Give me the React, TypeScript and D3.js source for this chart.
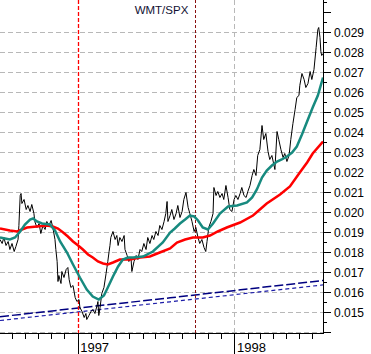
import { useEffect, useRef } from "react";
import {
    select,
    scaleTime,
    scaleLinear,
    line,
    range,
    timeDay,
    timeMonth,
} from "d3";

// daily-ish WMT/SPX ratio, days counted from 3 Jul 1996
const startDate = new Date(1996, 6, 3);
const lastDay = 752;

const ratioDays = [
    0, 5, 9, 14, 19, 23, 28, 33, 37, 42, 44, 47, 49, 51, 56, 61, 65, 70, 74, 79,
    81, 86, 91, 95, 100, 105, 109, 114, 119, 123, 128, 130, 133, 135, 137, 142, 144, 149, 154, 158,
    161, 165, 170, 175, 179, 184, 186, 191, 196, 200, 202, 207, 212, 216, 221, 226, 228, 230, 233, 237,
    242, 247, 249, 251, 254, 256, 258, 263, 268, 272, 275, 279, 284, 289, 291, 296, 300, 305, 307, 312,
    317, 321, 326, 330, 335, 340, 344, 349, 354, 358, 363, 368, 372, 377, 382, 386, 389, 391, 396, 400,
    405, 410, 414, 419, 424, 428, 433, 438, 442, 447, 452, 456, 461, 465, 470, 475, 479, 482, 486, 491,
    496, 498, 503, 507, 512, 517, 521, 526, 531, 535, 540, 545, 549, 554, 559, 563, 568, 573, 577, 582,
    587, 591, 596, 600, 605, 610, 614, 619, 624, 628, 633, 638, 640, 645, 649, 654, 659, 663, 668, 673,
    677, 682, 687, 691, 696, 698, 703, 708, 712, 717, 722, 726, 731, 736, 740, 742, 745, 747, 749, 752,
];
const ratioValues = [
    0.01865, 0.01845, 0.01875, 0.01835, 0.01855, 0.01815, 0.01845, 0.01805, 0.0183, 0.01865,
    0.01935, 0.02085, 0.02095, 0.02045, 0.02065, 0.02015, 0.02035, 0.02005, 0.0204, 0.01995,
    0.01955, 0.01925, 0.01945, 0.01895, 0.01935, 0.01915, 0.01955, 0.01935, 0.0196, 0.01925,
    0.01865, 0.01815, 0.01755, 0.01655, 0.01685, 0.01645, 0.01705, 0.01675, 0.01715, 0.01725,
    0.01665, 0.01625, 0.01635, 0.01575, 0.01555, 0.01565, 0.01525, 0.01505, 0.01475, 0.01495,
    0.01465, 0.01485, 0.01505, 0.01515, 0.01495, 0.01535, 0.01555, 0.01485, 0.01525, 0.01595,
    0.01625, 0.01695, 0.01725, 0.01755, 0.01805, 0.01835, 0.01875, 0.01905, 0.01865, 0.01885,
    0.01835, 0.01875, 0.01855, 0.01885, 0.01815, 0.01785, 0.01755, 0.01775, 0.01705, 0.01755,
    0.01785, 0.01765, 0.01815, 0.01805, 0.01845, 0.01815, 0.01875, 0.01845, 0.01885, 0.01865,
    0.01905, 0.01885, 0.01935, 0.01915, 0.01955, 0.01995, 0.02055, 0.01955, 0.01985, 0.02015,
    0.01965, 0.01995, 0.02035, 0.01975, 0.02005, 0.02065, 0.021, 0.02025, 0.01995, 0.01955,
    0.01905, 0.01925, 0.01875, 0.01845, 0.01865, 0.01825, 0.01805, 0.01855, 0.01925, 0.01955,
    0.01995, 0.02125, 0.02085, 0.02105, 0.02075, 0.02095, 0.02065, 0.02135, 0.02075, 0.02015,
    0.02005, 0.02065, 0.02085, 0.02065, 0.02095, 0.02125, 0.02085, 0.02075, 0.02105, 0.02135,
    0.02185, 0.02215, 0.02185, 0.02285, 0.02315, 0.02435, 0.02365, 0.02395, 0.02305, 0.02265,
    0.02285, 0.02235, 0.02215, 0.02405, 0.02365, 0.02315, 0.02275, 0.02295, 0.02255, 0.02285,
    0.02365, 0.02445, 0.02515, 0.02575, 0.02585, 0.02635, 0.02695, 0.02665, 0.02625, 0.02645,
    0.02705, 0.02665, 0.02715, 0.02825, 0.02915, 0.02925, 0.02875, 0.02805, 0.02785, 0.02795,
];

// 50 day average (teal)
const ma50Days = [
    0, 23, 35, 47, 58, 70, 77, 86, 98, 116, 128, 140, 156, 170, 186, 202, 216, 230, 242, 251,
    263, 275, 286, 298, 310, 333, 356, 379, 396, 407, 419, 431, 442, 452, 461, 472, 484, 496, 512, 531,
    552, 575, 587, 598, 610, 621, 633, 645, 656, 668, 680, 691, 703, 715, 728, 740, 752,
];
const ma50Values = [
    0.01875, 0.01865, 0.01875, 0.01905, 0.0194, 0.01965, 0.0197, 0.01955, 0.01945, 0.0194,
    0.0191, 0.01855, 0.018, 0.0174, 0.01675, 0.01615, 0.0158, 0.01565, 0.01585, 0.01625,
    0.0168, 0.0173, 0.01765, 0.01775, 0.01775, 0.0178, 0.01805, 0.0185, 0.019, 0.0192,
    0.01945, 0.01965, 0.01985, 0.0198, 0.0196, 0.01925, 0.01915, 0.01945, 0.01995, 0.0203,
    0.02035, 0.0205, 0.02075, 0.02115, 0.02175, 0.0221, 0.02235, 0.02255, 0.02265, 0.0228,
    0.023, 0.0233, 0.0239, 0.02455, 0.02525, 0.02585, 0.02675,
];

// 200 day average (red)
const ma200Days = [
    0, 23, 40, 51, 63, 86, 109, 123, 135, 147, 158, 170, 182, 193, 205, 216, 228, 240, 251, 263,
    279, 303, 326, 349, 372, 396, 412, 431, 449, 472, 489, 507, 528, 559, 589, 605, 621, 652, 675, 698,
    715, 728, 752,
];
const ma200Values = [
    0.0192, 0.0191, 0.01905, 0.01915, 0.01925, 0.0193, 0.01935, 0.0193, 0.0192, 0.019,
    0.0188, 0.01855, 0.01835, 0.01815, 0.0179, 0.01775, 0.01755, 0.01745, 0.0174, 0.0175,
    0.01765, 0.01765, 0.01775, 0.0178, 0.018, 0.0182, 0.0185, 0.01865, 0.01875, 0.01875,
    0.01885, 0.01905, 0.01925, 0.0195, 0.01985, 0.02015, 0.02045, 0.0209, 0.0213, 0.022,
    0.0225, 0.02295, 0.02355,
];

// long term trend channel (navy)
const trendDays = [0, 396, 752];
const upperTrend = [0.01479, 0.015735, 0.0166];
const lowerTrend = [0.0146, 0.015535, 0.01638];

const gridValues = range(14, 30).map((d) => d / 1000);
const yLabels = range(15, 30).map((d) => d / 1000);
const yearTicks = [new Date(1997, 0, 1), new Date(1998, 0, 1)];
const yearLabels = ["1997", "1998"];
const markerDate = new Date(1997, 8, 30);

const W = 371;
const H = 354;
const plotRight = 323;
const plotBottom = 333;
const font = "'Liberation Sans', Arial, sans-serif";

export default function App() {
    const svgRef = useRef<SVGSVGElement>(null);

    useEffect(() => {
        const svg = select(svgRef.current);
        svg.selectAll("*").remove();

        const xScale = scaleTime()
            .domain([startDate, timeDay.offset(startDate, lastDay)])
            .range([0, plotRight]);
        const yScale = scaleLinear().domain([0.014, 0.029]).range([332.5, 32.5]);
        const dayX = (d: number) => xScale(timeDay.offset(startDate, d));
        const crisp = (v: number) => Math.round(v - 0.5) + 0.5;

        svg.append("rect").attr("width", W).attr("height", H).attr("fill", "#fff");

        svg.append("defs")
            .append("clipPath")
            .attr("id", "plotClip")
            .append("rect")
            .attr("width", plotRight)
            .attr("height", plotBottom);

        // grid
        svg.append("g")
            .selectAll("line")
            .data(gridValues)
            .join("line")
            .attr("x1", 0)
            .attr("x2", plotRight)
            .attr("y1", (d) => yScale(d))
            .attr("y2", (d) => yScale(d))
            .attr("stroke", "#b8b8b8")
            .attr("stroke-dasharray", "5,3")
            .attr("shape-rendering", "crispEdges");

        svg.append("line")
            .attr("x1", crisp(xScale(yearTicks[1])))
            .attr("x2", crisp(xScale(yearTicks[1])))
            .attr("y1", 0)
            .attr("y2", plotBottom)
            .attr("stroke", "#b8b8b8")
            .attr("stroke-dasharray", "5,3")
            .attr("shape-rendering", "crispEdges");

        const content = svg.append("g").attr("clip-path", "url(#plotClip)");

        const trendLine = line<number>()
            .x((d, i) => dayX(trendDays[i]))
            .y((d) => yScale(d));

        content.append("path")
            .attr("d", trendLine(lowerTrend))
            .attr("fill", "none")
            .attr("stroke", "#1c1ca8")
            .attr("stroke-width", 1.2)
            .attr("stroke-dasharray", "4,3");

        content.append("path")
            .attr("d", trendLine(upperTrend))
            .attr("fill", "none")
            .attr("stroke", "#000080")
            .attr("stroke-width", 1.5)
            .attr("stroke-dasharray", "9,3");

        // event markers
        content.append("line")
            .attr("x1", crisp(xScale(yearTicks[0])))
            .attr("x2", crisp(xScale(yearTicks[0])))
            .attr("y1", 0)
            .attr("y2", plotBottom)
            .attr("stroke", "#ff0000")
            .attr("stroke-width", 1.3)
            .attr("stroke-dasharray", "4,2");

        content.append("line")
            .attr("x1", crisp(xScale(markerDate)))
            .attr("x2", crisp(xScale(markerDate)))
            .attr("y1", 0)
            .attr("y2", plotBottom)
            .attr("stroke", "#8b1010")
            .attr("stroke-width", 1)
            .attr("stroke-dasharray", "3,2");

        const ratioLine = line<number>()
            .x((d, i) => dayX(ratioDays[i]))
            .y((d) => yScale(d));
        content.append("path")
            .attr("d", ratioLine(ratioValues))
            .attr("fill", "none")
            .attr("stroke", "#000")
            .attr("stroke-width", 1);

        const ma200Line = line<number>()
            .x((d, i) => dayX(ma200Days[i]))
            .y((d) => yScale(d));
        content.append("path")
            .attr("d", ma200Line(ma200Values))
            .attr("fill", "none")
            .attr("stroke", "#ff0000")
            .attr("stroke-width", 2.5);

        const ma50Line = line<number>()
            .x((d, i) => dayX(ma50Days[i]))
            .y((d) => yScale(d));
        content.append("path")
            .attr("d", ma50Line(ma50Values))
            .attr("fill", "none")
            .attr("stroke", "#178a7f")
            .attr("stroke-width", 2.5);

        // right axis
        const axisY = svg.append("g").attr("shape-rendering", "crispEdges");
        axisY.append("line")
            .attr("x1", plotRight + 0.5)
            .attr("x2", plotRight + 0.5)
            .attr("y1", 0)
            .attr("y2", plotBottom + 1)
            .attr("stroke", "#000");
        const halfSteps = range(27, 62).map((d) => d / 2000);
        axisY.selectAll(".ytick")
            .data(halfSteps.filter((d) => yScale(d) >= 0 && yScale(d) <= plotBottom + 1))
            .join("line")
            .attr("class", "ytick")
            .attr("x1", plotRight)
            .attr("x2", (d, i) => plotRight + (Math.round(d * 2000) % 2 === 0 ? 8 : 4))
            .attr("y1", (d) => yScale(d))
            .attr("y2", (d) => yScale(d))
            .attr("stroke", "#000");
        svg.append("g")
            .selectAll("text")
            .data(yLabels)
            .join("text")
            .attr("x", 334)
            .attr("y", (d) => yScale(d) + 4.5)
            .attr("font-family", font)
            .attr("font-size", 12)
            .attr("fill", "#000")
            .text((d) => d.toFixed(3));

        // bottom axis
        const axisX = svg.append("g").attr("shape-rendering", "crispEdges");
        axisX.append("line")
            .attr("x1", 0)
            .attr("x2", plotRight + 1)
            .attr("y1", plotBottom + 0.5)
            .attr("y2", plotBottom + 0.5)
            .attr("stroke", "#000");
        const months = timeMonth.range(startDate, timeDay.offset(startDate, lastDay));
        axisX.selectAll(".xtick")
            .data(months)
            .join("line")
            .attr("class", "xtick")
            .attr("x1", (d) => crisp(xScale(d)))
            .attr("x2", (d) => crisp(xScale(d)))
            .attr("y1", plotBottom)
            .attr("y2", (d) => (d.getMonth() === 0 ? H : plotBottom + 6))
            .attr("stroke", "#000");
        svg.append("g")
            .selectAll("text")
            .data(yearTicks)
            .join("text")
            .attr("x", (d) => xScale(d) + 2)
            .attr("y", 352)
            .attr("font-family", font)
            .attr("font-size", 13)
            .attr("fill", "#000")
            .text((d, i) => yearLabels[i]);

        svg.append("text")
            .attr("x", plotRight / 2)
            .attr("y", 14)
            .attr("text-anchor", "middle")
            .attr("font-family", font)
            .attr("font-size", 11.5)
            .attr("fill", "#111133")
            .text("WMT/SPX");
    }, []);

    return (
        <div style={{ position: "fixed", left: 0, top: 0 }}>
            <svg ref={svgRef} width={W} height={H} style={{ display: "block" }}></svg>
        </div>
    );
}
